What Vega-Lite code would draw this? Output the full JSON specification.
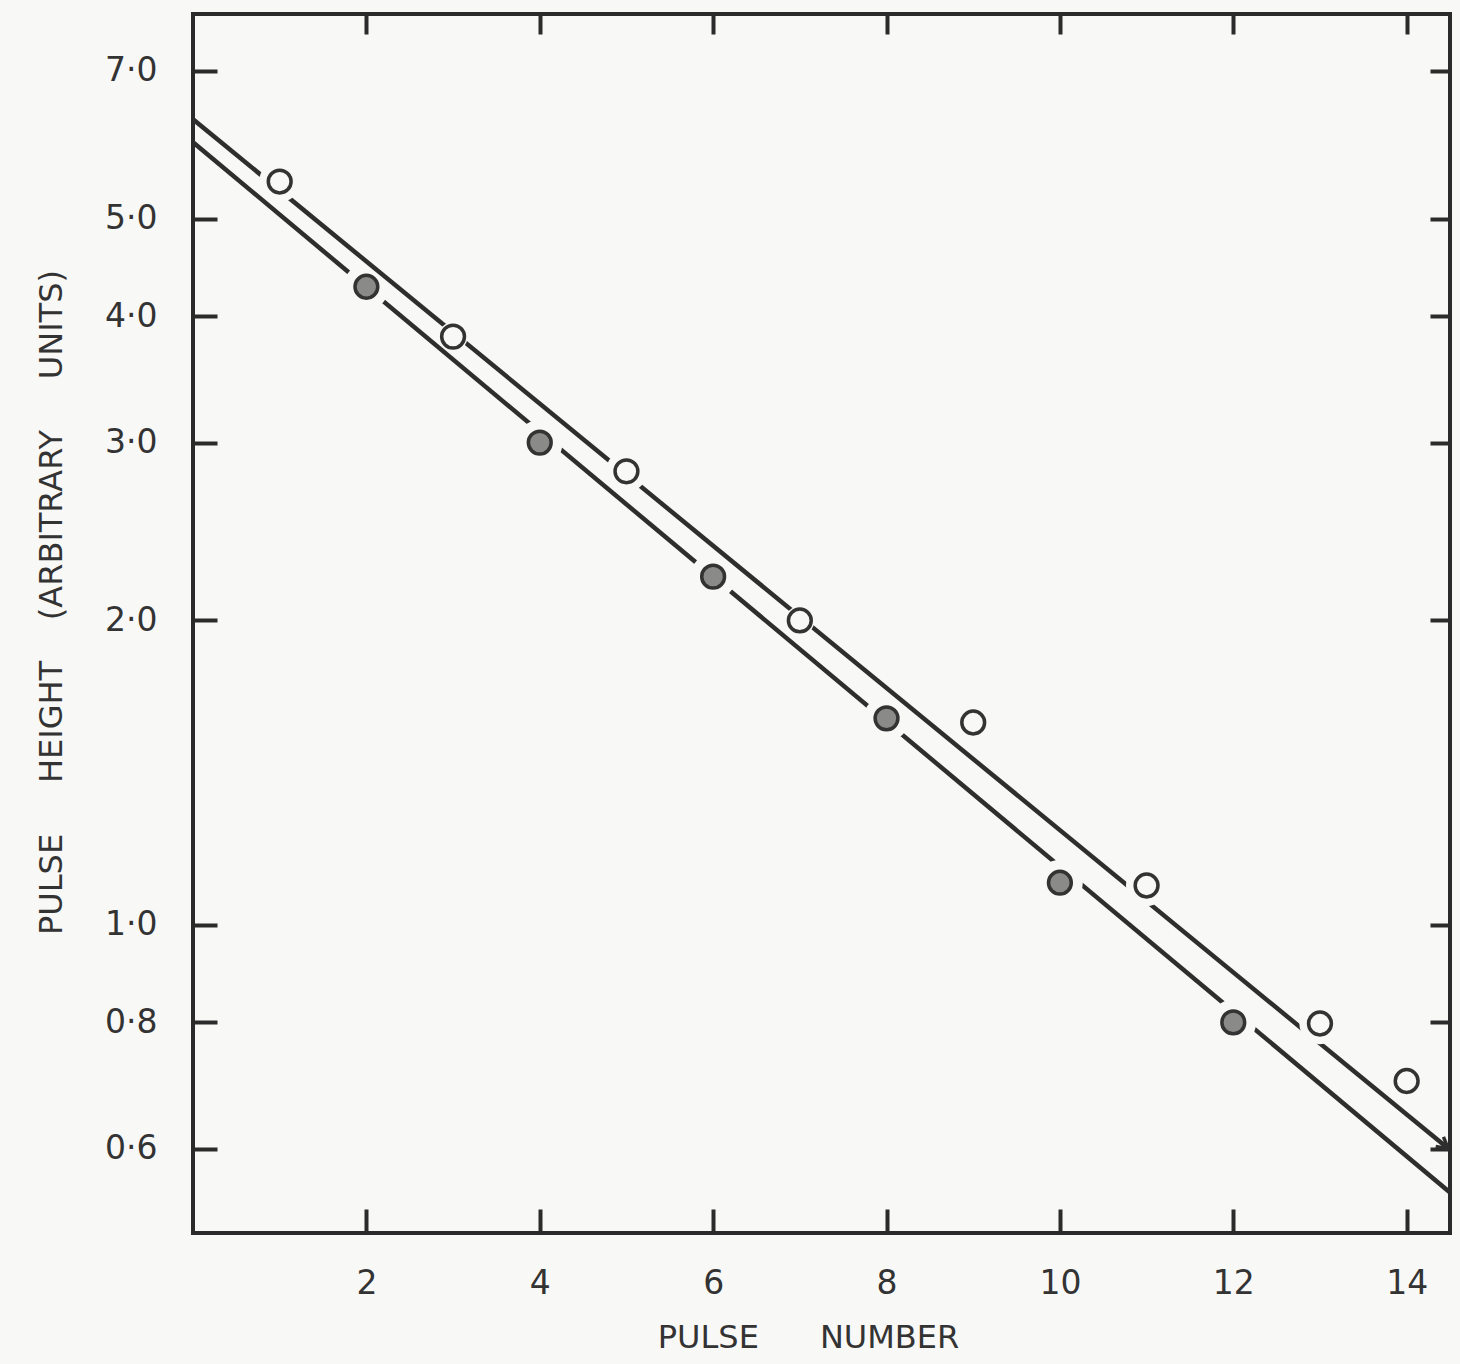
{
  "$schema": "https://vega.github.io/schema/vega-lite/v6.json",
  "width": 1257,
  "height": 1219,
  "autosize": {"type": "none"},
  "padding": {"left": 193, "top": 14, "right": 10, "bottom": 131},
  "background": "#f8f8f6",
  "config": {
    "view": {"stroke": "#2b2b2b", "strokeWidth": 4, "fill": null},
    "axis": {
      "domain": false,
      "grid": false,
      "zindex": 1,
      "tickColor": "#2b2b2b",
      "tickWidth": 4,
      "tickSize": -24,
      "labelFont": "DejaVu Sans",
      "labelFontSize": 33,
      "labelColor": "#333333",
      "titleFont": "DejaVu Sans",
      "titleFontSize": 32,
      "titleFontWeight": "normal",
      "titleColor": "#333333"
    }
  },
  "datasets": {
    "points": [
      {"series": "open", "pulse": 1, "height": 5.44},
      {"series": "filled", "pulse": 2, "height": 4.28},
      {"series": "open", "pulse": 3, "height": 3.82},
      {"series": "filled", "pulse": 4, "height": 3.0},
      {"series": "open", "pulse": 5, "height": 2.81},
      {"series": "filled", "pulse": 6, "height": 2.21},
      {"series": "open", "pulse": 7, "height": 2.0},
      {"series": "filled", "pulse": 8, "height": 1.6},
      {"series": "open", "pulse": 9, "height": 1.585},
      {"series": "filled", "pulse": 10, "height": 1.1},
      {"series": "open", "pulse": 11, "height": 1.093},
      {"series": "filled", "pulse": 12, "height": 0.8},
      {"series": "open", "pulse": 13, "height": 0.798},
      {"series": "open", "pulse": 14, "height": 0.7}
    ],
    "lines": [
      {"line": "upper", "pulse": 0, "height": 6.27},
      {"line": "upper", "pulse": 14.48, "height": 0.6},
      {"line": "lower", "pulse": 0, "height": 5.95},
      {"line": "lower", "pulse": 14.5, "height": 0.543}
    ]
  },
  "layer": [
    {
      "data": {"name": "lines"},
      "transform": [{"filter": "datum.line === 'lower'"}],
      "mark": {"type": "line", "stroke": "#2e2e2e", "strokeWidth": 4.5, "clip": true},
      "encoding": {
        "x": {
          "field": "pulse", "type": "quantitative",
          "scale": {"domain": [0, 14.5], "nice": false, "zero": false},
          "axis": {
            "orient": "bottom",
            "values": [2, 4, 6, 8, 10, 12, 14],
            "labelPadding": 58,
            "title": "PULSE\u00a0\u00a0\u00a0\u00a0\u00a0\u00a0NUMBER",
            "titlePadding": 22,
            "titleX": 615
          }
        },
        "y": {
          "field": "height", "type": "quantitative",
          "scale": {"type": "log", "domain": [0.495, 7.97], "nice": false},
          "axis": {
            "orient": "left",
            "values": [0.6, 0.8, 1, 2, 3, 4, 5, 7],
            "labelExpr": "replace(format(datum.value, '.1f'), '.', '·')",
            "ticks": false,
            "labelPadding": 36,
            "title": "PULSE\u00a0\u00a0\u00a0\u00a0\u00a0HEIGHT\u00a0\u00a0\u00a0\u00a0(ARBITRARY\u00a0\u00a0\u00a0\u00a0\u00a0UNITS)",
            "titlePadding": 36,
            "titleY": 588
          }
        }
      }
    },
    {
      "data": {"name": "points"},
      "transform": [{"filter": "datum.series === 'filled'"}],
      "mark": {"type": "point", "shape": "circle", "filled": true, "fill": "#f8f8f6", "opacity": 1, "size": 2100, "strokeWidth": 0},
      "encoding": {
        "x": {"field": "pulse", "type": "quantitative", "axis": null},
        "y": {"field": "height", "type": "quantitative", "axis": null}
      }
    },
    {
      "data": {"name": "lines"},
      "transform": [{"filter": "datum.line === 'upper'"}],
      "mark": {"type": "line", "stroke": "#2e2e2e", "strokeWidth": 4.5, "clip": true},
      "encoding": {
        "x": {
          "field": "pulse", "type": "quantitative",
          "axis": {"orient": "top", "values": [2, 4, 6, 8, 10, 12, 14], "labels": false, "title": null, "tickSize": -20}
        },
        "y": {
          "field": "height", "type": "quantitative",
          "axis": {"orient": "right", "values": [0.6, 0.8, 1, 2, 3, 4, 5, 7], "labels": false, "title": null, "tickSize": -20}
        }
      }
    },
    {
      "data": {"name": "lines"},
      "transform": [{"filter": "datum.line === 'upper' && datum.pulse > 14"}],
      "mark": {"type": "point", "shape": "M-1,-0.55L0,0L-1,0.55", "filled": false, "stroke": "#2e2e2e", "strokeWidth": 3.5, "size": 500, "angle": 39, "opacity": 1},
      "encoding": {
        "x": {"field": "pulse", "type": "quantitative", "axis": null},
        "y": {
          "field": "height", "type": "quantitative",
          "axis": {"orient": "right", "offset": -1257, "values": [0.6, 0.8, 1, 2, 3, 4, 5, 7], "labels": false, "title": null, "tickSize": 24}
        }
      }
    },
    {
      "data": {"name": "points"},
      "transform": [{"filter": "datum.series === 'open' && datum.pulse !== 3 && datum.pulse !== 7"}],
      "mark": {"type": "point", "shape": "circle", "filled": true, "fill": "#f8f8f6", "opacity": 1, "size": 1700, "strokeWidth": 0},
      "encoding": {
        "x": {"field": "pulse", "type": "quantitative", "axis": null},
        "y": {"field": "height", "type": "quantitative", "axis": null}
      }
    },
    {
      "data": {"name": "points"},
      "transform": [{"filter": "datum.series === 'open' && (datum.pulse === 3 || datum.pulse === 7)"}],
      "mark": {"type": "point", "shape": "circle", "filled": true, "fill": "#f8f8f6", "opacity": 1, "size": 850, "strokeWidth": 0},
      "encoding": {
        "x": {"field": "pulse", "type": "quantitative", "axis": null},
        "y": {"field": "height", "type": "quantitative", "axis": null}
      }
    },
    {
      "data": {"name": "points"},
      "mark": {"type": "point", "shape": "circle", "filled": true, "opacity": 1, "size": 520, "strokeWidth": 3.5, "stroke": "#333333"},
      "encoding": {
        "x": {"field": "pulse", "type": "quantitative", "axis": null},
        "y": {"field": "height", "type": "quantitative", "axis": null},
        "fill": {
          "field": "series", "type": "nominal",
          "scale": {"domain": ["open", "filled"], "range": ["#f8f8f6", "#8a8a88"]},
          "legend": null
        }
      }
    }
  ],
  "resolve": {"axis": {"x": "independent", "y": "independent"}}
}
